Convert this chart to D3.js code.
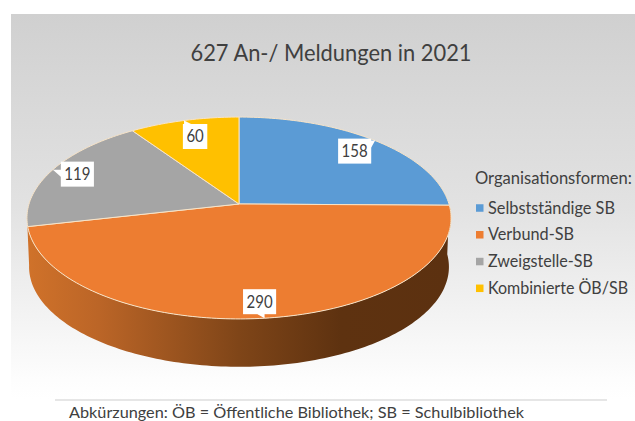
<!DOCTYPE html>
<html><head><meta charset="utf-8">
<script src="https://cdn.jsdelivr.net/npm/d3@7"></script>
<style>html,body{margin:0;padding:0;background:#fff;overflow:hidden}svg{display:block}text{font-family:Lato,"Open Sans",sans-serif}</style>
</head><body><div id="c"></div>
<script>
const categories = ["Selbstständige SB","Verbund-SB","Zweigstelle-SB","Kombinierte ÖB/SB"];
const values = [158,290,119,60];
const colors = ["#5b9bd5","#ed7d31","#a5a5a5","#ffc000"];
const titleText = "627 An-/ Meldungen in 2021";
const legendTitle = "Organisationsformen:";
const footnote = "Abkürzungen: ÖB = Öffentliche Bibliothek; SB = Schulbibliothek";

// layout constants
const labelOffsets = [[-20.5,10.5],[-5,-16.5],[24.5,4.5],[11,16]];
const legendWidths = [127,86,105,140];

const W=635,H=421;
const svg=d3.select("#c").append("svg").attr("width",W).attr("height",H);
const defs=svg.append("defs");
const bg=defs.append("linearGradient").attr("id","bg").attr("x1",0).attr("y1",0).attr("x2",0).attr("y2",1);
bg.append("stop").attr("offset",0).attr("stop-color","#d0d0d0");
bg.append("stop").attr("offset",.5).attr("stop-color","#e2e2e2");
bg.append("stop").attr("offset",.95).attr("stop-color","#fdfdfd");
bg.append("stop").attr("offset",1).attr("stop-color","#ffffff");
const wg=defs.append("linearGradient").attr("id","wall").attr("x1",0).attr("y1",0).attr("x2",1).attr("y2",0);
[[0,"#d0722a"],[.17,"#bb6527"],[.5,"#7f4518"],[.74,"#5e3210"],[1,"#5c3110"]].forEach(s=>wg.append("stop").attr("offset",s[0]).attr("stop-color",s[1]));

svg.append("rect").attr("x",11).attr("y",14).attr("width",W-11).attr("height",385).attr("fill","url(#bg)");

// perspective ellipse projection
const cx=239, cy=204, R=210, b=99, k=0.1386;
const project=(a,scale=1,dy=0)=>{
  const u=Math.sin(a), v=-Math.cos(a), d=1-k*v;
  return [cx+scale*R*u/d, cy+dy+scale*b*v/d];
};
const arcPts=(a0,a1,scale,dy)=>{
  const n=Math.max(2,Math.ceil(Math.abs(a1-a0)/0.02));
  return d3.range(n+1).map(i=>project(a0+(a1-a0)*i/n,scale,dy));
};
const arcs=d3.pie().sort(null)(values);
const line=d3.line();
const orange=arcs[1];

// side wall
const topEdge=arcPts(orange.startAngle,orange.endAngle+0.1,1,0);
const botEdge=arcPts(orange.endAngle+0.1,orange.startAngle,0.99,49);
svg.append("path").attr("d",line(topEdge.concat(botEdge))+"Z").attr("fill","url(#wall)");

// top faces
svg.selectAll("path.s").data(arcs).join("path").attr("class","s")
  .attr("d",d=>line([[cx,cy]].concat(arcPts(d.startAngle,d.endAngle,1,0)))+"Z")
  .attr("fill",(d,i)=>colors[i]).attr("stroke","#f8e4c8").attr("stroke-width",1).attr("stroke-linejoin","round");

// data labels with callout tips
const boxH=25;
arcs.forEach((d,i)=>{
  const [tx,ty]=project((d.startAngle+d.endAngle)/2);
  const lx=tx+labelOffsets[i][0], ly=ty+labelOffsets[i][1];
  const len=String(d.value).length;
  const w=len*8.7+7, x0=lx-w/2, y0=ly-boxH/2;
  const nx=Math.max(x0,Math.min(x0+w,tx)), ny=Math.max(y0,Math.min(y0+boxH,ty));
  const sx=Math.sign(tx-lx), sy=Math.sign(ty-ly);
  svg.append("rect").attr("x",x0).attr("y",y0).attr("width",w).attr("height",boxH).attr("fill","#fff");
  svg.append("path").attr("d",line([[tx,ty],[nx-sx*7,ny],[nx,ny-sy*7]])+"Z").attr("fill","#fff");
  svg.append("text").attr("x",lx).attr("y",ly+6).attr("text-anchor","middle").attr("font-size",17)
    .attr("textLength",len*8.7).attr("lengthAdjust","spacingAndGlyphs").attr("fill","#404040").text(d.value);
});

svg.append("text").attr("x",331).attr("y",61).attr("text-anchor","middle").attr("font-size",24)
  .attr("textLength",281).attr("lengthAdjust","spacingAndGlyphs").attr("fill","#404040").text(titleText);

svg.append("text").attr("x",475).attr("y",184).attr("font-size",17)
  .attr("textLength",157).attr("lengthAdjust","spacingAndGlyphs").attr("fill","#404040").text(legendTitle);
const ly=d3.scalePoint().domain(categories).range([208,288.3]);
categories.forEach((c,i)=>{
  svg.append("rect").attr("x",476).attr("y",ly(c)-3.75).attr("width",7.5).attr("height",7.5).attr("fill",colors[i]);
  svg.append("text").attr("x",488).attr("y",ly(c)+5.5).attr("font-size",17)
    .attr("textLength",legendWidths[i]).attr("lengthAdjust","spacingAndGlyphs").attr("fill","#404040").text(c);
});

svg.append("line").attr("x1",55).attr("x2",607).attr("y1",400).attr("y2",400).attr("stroke","#dedede").attr("stroke-width",1.5);
svg.append("text").attr("x",69).attr("y",417.5).attr("font-size",15.5)
  .attr("textLength",455).attr("lengthAdjust","spacingAndGlyphs").attr("fill","#404040").text(footnote);
</script></body></html>
